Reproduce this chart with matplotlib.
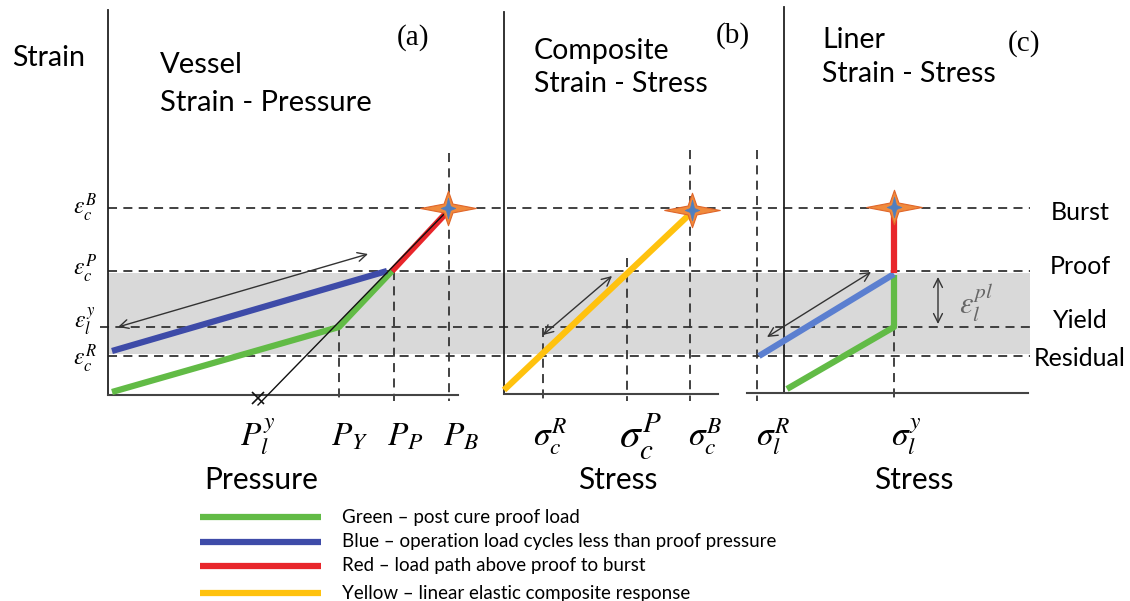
import matplotlib
matplotlib.use("Agg")
import matplotlib.pyplot as plt
from matplotlib.path import Path

plt.rcParams["font.family"] = ["Lato", "DejaVu Sans"]
plt.rcParams["mathtext.fontset"] = "stix"

# --- Livelli di deformazione (coordinate del disegno, asse y verso il basso) ---
level_names = ["Burst", "Proof", "Yield", "Residual"]
level_y = [208, 271, 327, 356]
level_tex = [r"$\varepsilon_c^B$", r"$\varepsilon_c^P$", r"$\varepsilon_l^y$", r"$\varepsilon_c^R$"]
level_tex_y = [208, 269, 321, 359]
level_label_y = [213, 267, 320, 358]

# --- Assi dei tre pannelli ---
panel_x0 = [108, 504, 784]
panel_top = [10, 12, 7]
panel_base = [395, 394, 393]
panel_xstart = [108, 504, 747]
panel_xend = [458, 718, 1028]
panel_tag = ["(a)", "(b)", "(c)"]
panel_name = ["Vessel", "Composite", "Liner"]
panel_sub = ["Strain - Pressure", "Strain - Stress", "Strain - Stress"]
axis_names = ["Pressure", "Stress", "Stress"]

# --- Tacche sull'asse orizzontale ---
tick_tex = [r"$P_l^y$", r"$P_Y$", r"$P_P$", r"$P_B$",
            r"$\sigma_c^R$", r"$\sigma_c^P$", r"$\sigma_c^B$", r"$\sigma_l^R$", r"$\sigma_l^y$"]
tick_x = [339, 394, 449, 543, 627, 690, 757, 894]
tick_top = [327, 271, 153, 328, 258, 150, 150, 327]
tick_label_x = [258, 350, 405, 461, 550, 640, 705, 773, 906]

# --- Percorsi di carico ---
green_a_x, green_a_y = [112, 339, 392], [392, 327, 271]
blue_a_x, blue_a_y = [112, 387], [351, 271]
red_a_x, red_a_y = [392, 448], [271, 211]
elastic_x, elastic_y = [258, 449], [405, 209]
yellow_x, yellow_y = [504, 692], [390, 212]
green_c_x, green_c_y = [787, 894, 894], [389, 327, 275]
blue_c_x, blue_c_y = [759, 894], [356, 274]
red_c_x, red_c_y = [894, 894], [273, 212]
star_x, star_y = [448, 692, 894], [208, 210, 207]

# frecce doppie: (x0, y0, x1, y1)
arrows = [(118, 327, 368, 254), (543, 335, 612, 276), (767, 337, 871, 272), (938, 277, 938, 324)]

legend_text = ["Green \u2013 post cure proof load",
               "Blue \u2013 operation load cycles less than proof pressure",
               "Red \u2013 load path above proof to burst",
               "Yellow \u2013 linear elastic composite response"]
legend_colors = ["#62BB46", "#3E4BA8", "#E8262B", "#FFC20E"]
legend_y = [517, 542, 566, 593]

GREEN, BLUE, RED, YELLOW = legend_colors
LIGHT_BLUE = "#5B7FD0"
DASH = dict(color="#333333", lw=1.3, ls=(0, (5, 3.5)))


def star_marker(wx, wy, k=0.16):
    verts = [(wx, 0), (k, k), (0, wy), (-k, k), (-wx, 0), (-k, -k), (0, -wy), (k, -k), (wx, 0)]
    codes = [Path.MOVETO] + [Path.LINETO] * 7 + [Path.CLOSEPOLY]
    return Path(verts, codes)


fig = plt.figure(figsize=(11.3, 6.01), dpi=100)
ax = fig.add_axes([0, 0, 1, 1])
ax.set_xlim(0, 1130)
ax.set_ylim(601, 0)
ax.axis("off")

# banda grigia fra Proof e Residual
ax.fill_between([108, 1030], level_y[1] + 2, level_y[3] - 2, color="#D9D9D9", lw=0, zorder=0)

# linee orizzontali tratteggiate
for name, y, ly in zip(level_names, level_y, level_label_y):
    x0 = 100 if name == "Yield" else 108
    ax.plot([x0, 1030], [y, y], zorder=1, **DASH)
    ax.text(1080, ly, name, fontsize=18, ha="center", va="center")
for tex, y in zip(level_tex, level_tex_y):
    ax.text(85, y, tex, fontsize=17, ha="center", va="center")

# linee verticali tratteggiate
for x, top in zip(tick_x, tick_top):
    ax.plot([x, x], [top, 401], zorder=1, **DASH)

# assi dei pannelli
for x0, top, base, xs, xe in zip(panel_x0, panel_top, panel_base, panel_xstart, panel_xend):
    ax.plot([x0, x0], [top, base], color="#222222", lw=1.3, zorder=2)
    ax.plot([xs, xe], [base, base], color="#444444", lw=1.5, zorder=2)

# etichette dei pannelli
title_x = [160, 534, 822]
name_base = [73, 59, 48]
sub_base = [111, 92, 82]
title_size = [21, 20.5, 20.5]
tag_pos = [(413, 38), (733, 36), (1024, 44)]
name_x = [261, 618, 914]
for i in range(3):
    ax.text(title_x[i], name_base[i], panel_name[i], fontsize=title_size[i], ha="left", va="baseline")
    ax.text(title_x[i], sub_base[i], panel_sub[i], fontsize=title_size[i], ha="left", va="baseline")
    ax.text(*tag_pos[i], panel_tag[i], fontsize=21, ha="center", va="center", family="Liberation Serif")
    ax.text(name_x[i], 489, axis_names[i], fontsize=21.5, ha="center", va="baseline")
ax.text(12, 66, "Strain", fontsize=20.5, ha="left", va="baseline")

for tex, x in zip(tick_tex, tick_label_x):
    size = 30 if "sigma_c^P" in tex else 24
    ax.text(x, 437, tex, fontsize=size, ha="center", va="center")

# percorsi di carico
LW = 4.5
ax.plot(green_a_x, green_a_y, color=GREEN, lw=LW, zorder=3, solid_capstyle="butt")
ax.plot(blue_a_x, blue_a_y, color=BLUE, lw=LW, zorder=3, solid_capstyle="butt")
ax.plot(red_a_x, red_a_y, color=RED, lw=LW, zorder=3, solid_capstyle="butt")
ax.plot(elastic_x, elastic_y, color="#111111", lw=1.0, zorder=4)
ax.plot(elastic_x[:1], [398], marker="x", ms=8, mew=1.2, color="#111111", zorder=4)
ax.plot(yellow_x, yellow_y, color=YELLOW, lw=LW, zorder=3, solid_capstyle="butt")
ax.plot(green_c_x, green_c_y, color=GREEN, lw=LW, zorder=3, solid_capstyle="butt")
ax.plot(blue_c_x, blue_c_y, color=LIGHT_BLUE, lw=LW, zorder=3, solid_capstyle="butt")
ax.plot(red_c_x, red_c_y, color=RED, lw=LW, zorder=3, solid_capstyle="butt")

# stelle di rottura
ax.plot(star_x, star_y, ls="none", marker=star_marker(1.0, 0.62), ms=40,
        mfc="#F08A3C", mec="#E0662A", mew=0.8, zorder=5)
ax.plot(star_x, star_y, ls="none", marker=star_marker(0.7, 1.0, 0.2), ms=15,
        mfc="#4F7FBF", mec="#4F7FBF", mew=0.5, zorder=6)

# frecce
for x0, y0, x1, y1 in arrows:
    ax.annotate("", xy=(x1, y1), xytext=(x0, y0),
                arrowprops=dict(arrowstyle="<->", color="#333333", lw=1.0, mutation_scale=16,
                                shrinkA=0, shrinkB=0), zorder=4)
ax.text(976, 303, r"$\varepsilon_l^{pl}$", fontsize=22, ha="center", va="center", color="#666666")

# legenda
for txt, col, y in zip(legend_text, legend_colors, legend_y):
    ax.plot([200, 321], [y, y], color=col, lw=4.5, solid_capstyle="butt")
    ax.text(342, y, txt, fontsize=13.5, ha="left", va="center")

fig.savefig("out.png", dpi=100)
